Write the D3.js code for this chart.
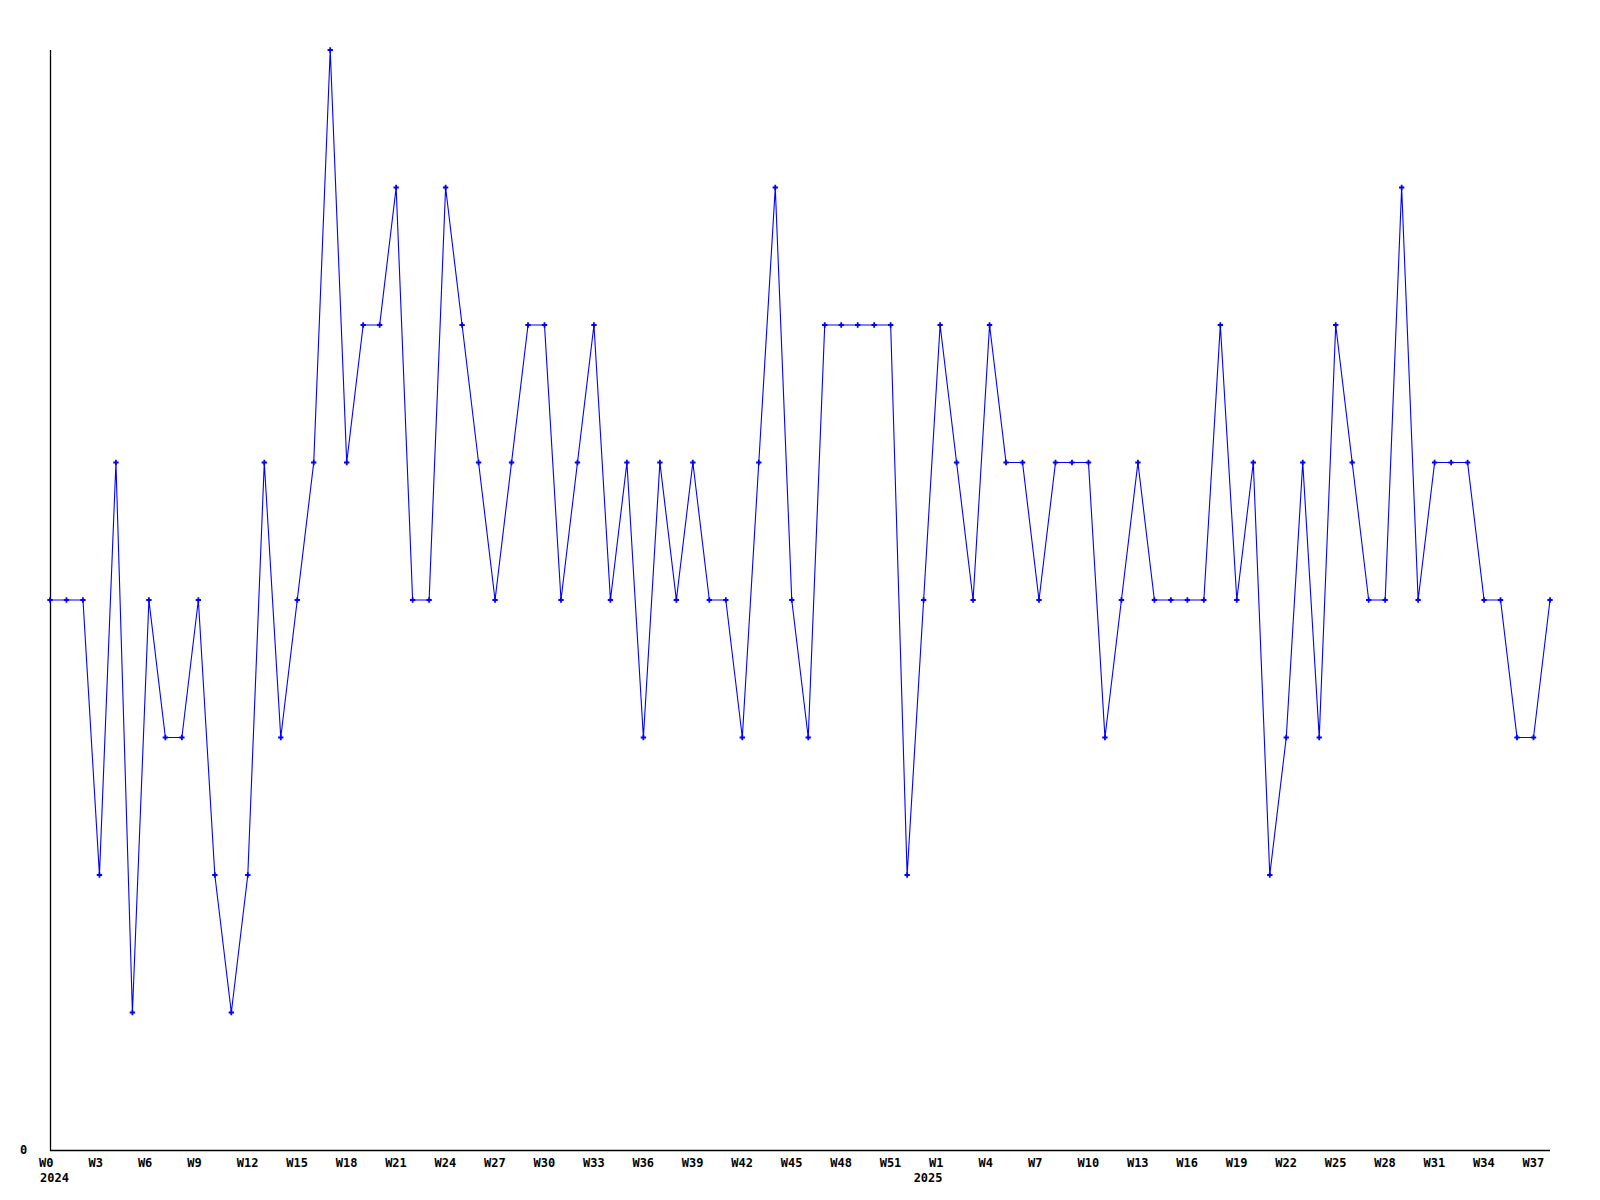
<!DOCTYPE html>
<html>
<head>
<meta charset="utf-8">
<script src="https://cdn.jsdelivr.net/npm/d3@7"></script>
<style>
  html, body { margin: 0; padding: 0; background: #ffffff; }
  svg { display: block; }
  text { font-family: "DejaVu Sans Mono", "Liberation Mono", monospace; font-weight: bold; font-size: 12px; fill: #000; }
</style>
</head>
<body>
<svg id="chart" width="1600" height="1200"></svg>
<script>
// ---- data ----
const years = ["2024", "2025"];
const weeks2024 = ["W0","W1","W2","W3","W4","W5","W6","W7","W8","W9","W10","W11","W12","W13","W14","W15","W16","W17","W18","W19","W20","W21","W22","W23","W24","W25","W26","W27","W28","W29","W30","W31","W32","W33","W34","W35","W36","W37","W38","W39","W40","W41","W42","W43","W44","W45","W46","W47","W48","W49","W50","W51","W52"];
const weeks2025 = ["W0","W1","W2","W3","W4","W5","W6","W7","W8","W9","W10","W11","W12","W13","W14","W15","W16","W17","W18","W19","W20","W21","W22","W23","W24","W25","W26","W27","W28","W29","W30","W31","W32","W33","W34","W35","W36","W37","W38"];
const values2024 = [4,4,4,2,5,1,4,3,3,4,2,1,2,5,3,4,5,8,5,6,6,7,4,4,7,6,5,4,5,6,6,4,5,6,4,5,3,5,4,5,4,4,3,5,7,4,3,6,6,6,6,6,2];
const values2025 = [4,6,5,4,6,5,5,4,5,5,5,3,4,5,4,4,4,4,6,4,5,2,3,5,3,6,5,4,4,7,4,5,5,5,4,4,3,3,4];
const yTickLabels = ["0"];
const labelEvery = 3;

// ---- build table ----
const rows = [];
weeks2024.forEach((w, i) => rows.push({ key: "2024-" + w, year: years[0], week: w, value: values2024[i] }));
weeks2025.forEach((w, i) => rows.push({ key: "2025-" + w, year: years[1], week: w, value: values2025[i] }));

const svg = d3.select("#chart");
const mLeft = 50, mRight = 1550, mTop = 50, mBottom = 1150;

const x = d3.scalePoint().domain(rows.map(d => d.key)).range([mLeft, mRight]);
const y = d3.scaleLinear().domain([0, 8]).range([mBottom, mTop]);

// axes lines
svg.append("line").attr("x1", mLeft + 0.5).attr("x2", mLeft + 0.5).attr("y1", mTop).attr("y2", mBottom + 0.5)
  .attr("stroke", "#000").attr("stroke-width", 1.3);
svg.append("line").attr("x1", mLeft).attr("x2", mRight).attr("y1", mBottom + 0.5).attr("y2", mBottom + 0.5)
  .attr("stroke", "#000").attr("stroke-width", 1.3);

// y label
svg.append("text").attr("x", 20).attr("y", y(+yTickLabels[0]) + 4).text(yTickLabels[0]);

// x tick labels
rows.forEach((d, i) => {
  if (i % labelEvery === 0) {
    svg.append("text").attr("x", x(d.key) - 11).attr("y", mBottom + 17).text(d.week);
  }
});
// year labels
years.forEach(yr => {
  const first = rows.find(d => d.year === yr);
  svg.append("text").attr("x", x(first.key) - 10).attr("y", mBottom + 32).text(yr);
});

// line
const line = d3.line().x(d => x(d.key)).y(d => y(d.value));
svg.append("path").datum(rows).attr("d", line)
  .attr("fill", "none").attr("stroke", "#0000ff").attr("stroke-width", 1.1);

// markers
const sym = d3.symbol().type(d3.symbolCross).size(16);
svg.selectAll("path.pt").data(rows).enter().append("path").attr("class", "pt")
  .attr("d", sym)
  .attr("transform", d => `translate(${x(d.key)},${y(d.value)})`)
  .attr("fill", "#0000ff");
</script>
</body>
</html>
